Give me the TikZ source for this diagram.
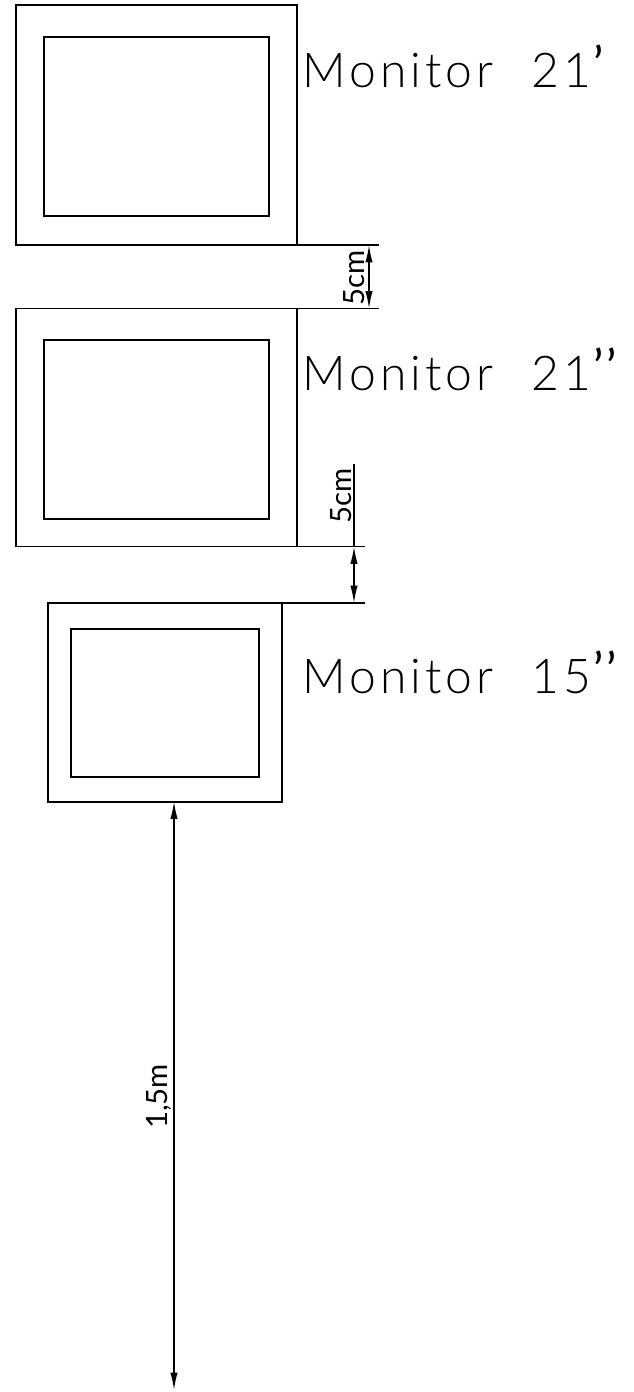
\documentclass[tikz,border=0pt]{standalone}
\usepackage{fontspec}
\setmainfont{Lato}[UprightFont=* Light]
\newfontfamily\bigcad{Lato}[UprightFont=* Light,LetterSpace=8.5,WordSpace=2.2]
\newfontfamily\smallcad{Lato}
\usetikzlibrary{arrows.meta}
\tikzset{
  x=0.75pt,y=-0.75pt,
  screen/.style={draw=black,line width=1.1pt,fill=none,inner sep=0pt,outer sep=0pt,rectangle},
  extline/.style={draw=black,line width=1pt},
  dimline/.style={draw=black,line width=1.1pt,{Latex[length=13pt,width=5.5pt]}-{Latex[length=13pt,width=5.5pt]}},
  biglabel/.style={anchor=base west,inner sep=0pt,font=\fontsize{36}{40}\selectfont\bigcad},
  dimlabel/.style={anchor=base west,inner sep=0pt,rotate=90,font=\fontsize{22}{24}\selectfont\smallcad},
}
\newcommand{\quotemark}{\raisebox{4pt}{\smallcad ’}}
\begin{document}
\begin{tikzpicture}
\useasboundingbox (0,0) rectangle (633,1392);
\node[screen,minimum width=210.75pt,minimum height=180pt,anchor=north west] (outerA) at (16,5) {};
\node[screen,minimum width=168.75pt,minimum height=134.25pt,anchor=north west] (innerA) at (44,37) {};
\node[screen,minimum width=210.75pt,minimum height=178.5pt,anchor=north west] (outerB) at (16,308.5) {};
\node[screen,minimum width=168.75pt,minimum height=134.25pt,anchor=north west] (innerB) at (44,340) {};
\node[screen,minimum width=175.5pt,minimum height=149.25pt,anchor=north west] (outerC) at (48,603) {};
\node[screen,minimum width=141pt,minimum height=111pt,anchor=north west] (innerC) at (71,629) {};
\node[biglabel] (labA) at (302,87) {Monitor 21\hspace{2pt}\quotemark};
\node[biglabel] (labB) at (302,390) {Monitor 21\hspace{2pt}\quotemark\hspace{2pt}\quotemark};
\node[biglabel] (labC) at (302,693) {Monitor 15\hspace{2pt}\quotemark\hspace{2pt}\quotemark};
\coordinate (a1) at (379,245);
\coordinate (a3) at (369,245);
\coordinate (b0) at (354,464);
\coordinate (b1) at (365,546.5);
\coordinate (b5) at (281,546.5);
\coordinate (c0) at (174,801.5);
\coordinate (c1) at (174,1390);
\draw[extline] (outerA.south east) -- (outerA.south east -| a1);
\draw[extline] (outerB.north east) -- (outerB.north east -| a1);
\draw[dimline] (outerA.south east -| a3) -- (outerB.north east -| a3);
\draw[extline] (b5) -- (b1);
\draw[extline] (outerC.north east) -- (outerC.north east -| b1);
\draw[extline] (b0) -- (b0 |- b5);
\draw[dimline] (b0 |- b5) -- (b0 |- outerC.north east);
\draw[dimline] (c0) -- (c1);
\node[dimlabel] (dimA) at (364,306) {5cm};
\node[dimlabel] (dimB) at (351,524) {5cm};
\node[dimlabel] (dimC) at (167,1129) {1,5m};
\end{tikzpicture}
\end{document}
